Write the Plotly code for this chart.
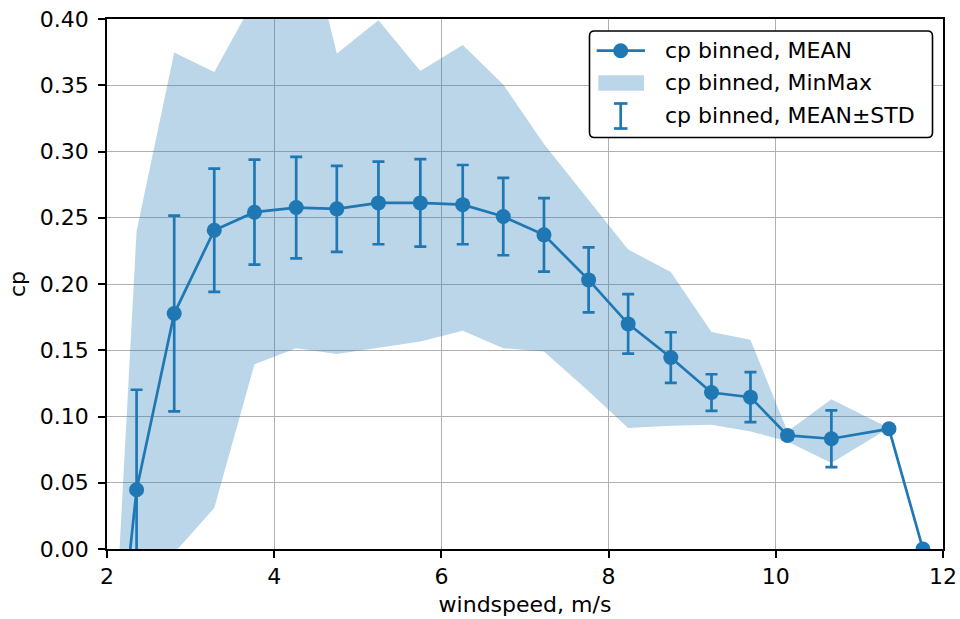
import math
import plotly.graph_objects as go

# Binned power coefficient versus wind speed
windspeed = [2.15, 2.354, 2.804, 3.283, 3.764, 4.263, 4.749, 5.247, 5.748, 6.255,
             6.740, 7.227, 7.761, 8.234, 8.744, 9.231, 9.697, 10.14, 10.665, 11.354, 11.76]
cp_mean = [-0.076, 0.0447, 0.1777, 0.2406, 0.2542, 0.2577, 0.2567, 0.2612, 0.2612, 0.2599,
           0.2509, 0.2371, 0.2031, 0.1699, 0.1445, 0.1181, 0.1146, 0.0857, 0.0832, 0.0907, 0.0]
cp_std = [0.05, 0.0755, 0.0739, 0.0465, 0.0396, 0.0383, 0.0324, 0.0312, 0.0330, 0.0299,
          0.0292, 0.0277, 0.0245, 0.0225, 0.0191, 0.0138, 0.0189, 0.003, 0.0214, math.nan, math.nan]
cp_min = [-0.35, -0.05, -0.003, 0.0309, 0.1395, 0.1516, 0.1471, 0.152, 0.1566, 0.1647,
          0.1516, 0.149, 0.119, 0.0913, 0.093, 0.0937, 0.0887, 0.0812, 0.0649, 0.0913, 0.0]
cp_max = [0.0, 0.240, 0.3747, 0.360, 0.415, 0.50, 0.3739, 0.399, 0.3607, 0.3804,
          0.3506, 0.3057, 0.2634, 0.226, 0.209, 0.1637, 0.1579, 0.0887, 0.1131, 0.0913, 0.0]

x_ticks = [2, 4, 6, 8, 10, 12]
y_ticks = [0.00, 0.05, 0.10, 0.15, 0.20, 0.25, 0.30, 0.35, 0.40]
y_tick_labels = [f"{v:.2f}" for v in y_ticks]

legend_labels = ["cp binned, MEAN", "cp binned, MinMax", "cp binned, MEAN\u00b1STD"]

BLUE = "#1f77b4"
FILL = "rgba(31,119,180,0.3)"
FONT = "DejaVu Sans"
FS = 22

W, H = 960, 619
ML, MR, MT, MB = 107, 17, 19, 70
PW, PH = W - ML - MR, H - MT - MB


def px(xp):
    return (xp - ML) / PW


def py(yp):
    return (H - MB - yp) / PH


fig = go.Figure()

# min/max envelope
fig.add_trace(go.Scatter(
    x=windspeed + windspeed[::-1],
    y=cp_max + cp_min[::-1],
    mode="lines", fill="toself", fillcolor=FILL,
    line=dict(width=0), hoverinfo="skip", showlegend=False,
))

# mean with +-std error bars
fig.add_trace(go.Scatter(
    x=windspeed, y=cp_mean, mode="lines+markers",
    line=dict(color=BLUE, width=2.7),
    marker=dict(size=15, color=BLUE),
    error_y=dict(type="data", array=cp_std, visible=True,
                 color=BLUE, thickness=2.7, width=6),
    showlegend=False,
))

axis_common = dict(
    showgrid=True, gridcolor="#b0b0b0", gridwidth=1.3,
    showline=True, linecolor="black", linewidth=1.6, mirror=True,
    ticks="outside", ticklen=7, tickwidth=1.6, tickcolor="black",
    zeroline=False, automargin=False,
    tickfont=dict(family=FONT, size=FS, color="black"),
)

fig.update_xaxes(range=[2, 12], tickvals=x_ticks, ticktext=[str(v) for v in x_ticks],
                 ticklabelstandoff=0,
                 title=dict(text="windspeed, m/s", font=dict(family=FONT, size=FS, color="black"),
                            standoff=8),
                 **axis_common)
fig.update_yaxes(range=[0, 0.4], tickvals=y_ticks, ticktext=y_tick_labels,
                 ticklabelstandoff=5,
                 title=dict(text="cp", font=dict(family=FONT, size=FS, color="black"),
                            standoff=8),
                 **axis_common)

# legend drawn by hand: rounded frame, handles and labels
bx0, bx1, by0, by1, r = 589.5, 932.5, 31.0, 137.5, 5.0
rx, ry = r / PW, r / PH
X0, X1, Y0, Y1 = px(bx0), px(bx1), py(by0), py(by1)
frame = (f"M {X0 + rx},{Y0} L {X1 - rx},{Y0} Q {X1},{Y0} {X1},{Y0 - ry} "
         f"L {X1},{Y1 + ry} Q {X1},{Y1} {X1 - rx},{Y1} "
         f"L {X0 + rx},{Y1} Q {X0},{Y1} {X0},{Y1 + ry} "
         f"L {X0},{Y0 - ry} Q {X0},{Y0} {X0 + rx},{Y0} Z")
shapes = [dict(type="path", path=frame, xref="paper", yref="paper",
               fillcolor="white", line=dict(color="black", width=1.6), layer="above")]

rows = [50.7, 83.0, 116.0]
hx0, hx1, hxc = 596.7, 645.0, 620.7
# row 1: line with marker
shapes.append(dict(type="line", xref="paper", yref="paper",
                   x0=px(hx0), x1=px(hx1), y0=py(rows[0]), y1=py(rows[0]),
                   line=dict(color=BLUE, width=2.7), layer="above"))
shapes.append(dict(type="circle", xref="paper", yref="paper",
                   x0=px(hxc - 7.5), x1=px(hxc + 7.5), y0=py(rows[0] - 7.5), y1=py(rows[0] + 7.5),
                   fillcolor=BLUE, line=dict(color=BLUE, width=0), layer="above"))
# row 2: envelope swatch
shapes.append(dict(type="rect", xref="paper", yref="paper",
                   x0=px(598.3), x1=px(644.0), y0=py(rows[1] - 7.8), y1=py(rows[1] + 7.8),
                   fillcolor=FILL, line=dict(width=0), layer="above"))
# row 3: error bar glyph
eb_top, eb_bot, cap = rows[2] - 12.5, rows[2] + 12.5, 6.8
shapes.append(dict(type="line", xref="paper", yref="paper",
                   x0=px(hxc), x1=px(hxc), y0=py(eb_top), y1=py(eb_bot),
                   line=dict(color=BLUE, width=2.7), layer="above"))
for yy in (eb_top, eb_bot):
    shapes.append(dict(type="line", xref="paper", yref="paper",
                       x0=px(hxc - cap), x1=px(hxc + cap), y0=py(yy), y1=py(yy),
                       line=dict(color=BLUE, width=2.7), layer="above"))

annotations = []
for label, row in zip(legend_labels, rows):
    annotations.append(dict(text=label, xref="paper", yref="paper",
                            x=px(663.3), y=py(row), xanchor="left", yanchor="middle",
                            showarrow=False, font=dict(family=FONT, size=FS, color="black")))

fig.update_layout(
    width=W, height=H,
    margin=dict(l=ML, r=MR, t=MT, b=MB),
    paper_bgcolor="white", plot_bgcolor="white",
    shapes=shapes, annotations=annotations,
    showlegend=False,
    font=dict(family=FONT, size=FS, color="black"),
)

fig.write_html("out.html")
